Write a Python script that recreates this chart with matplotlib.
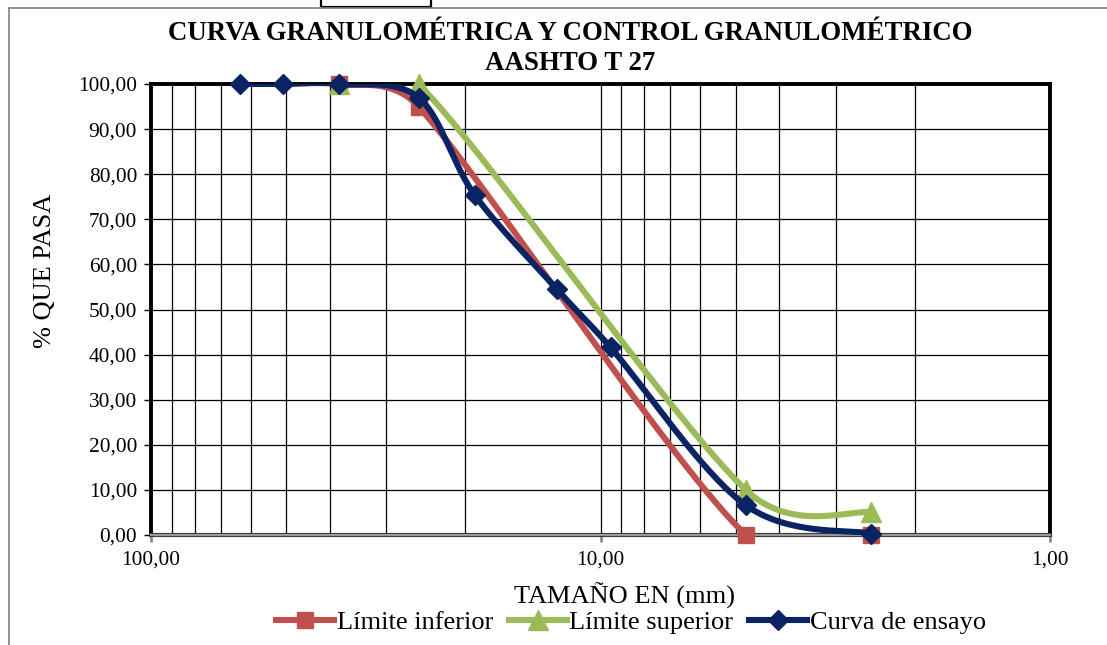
import numpy as np
import matplotlib
matplotlib.use("Agg")
import matplotlib.pyplot as plt
from matplotlib.lines import Line2D
from matplotlib.patches import Rectangle
from matplotlib.ticker import LogLocator, FixedLocator, FuncFormatter, NullFormatter

# Sieve openings (mm) and percent passing
tamiz_mm = [63.5, 50.8, 38.1, 25.4, 19.05, 12.5, 9.5, 4.75, 2.5]
curva_ensayo = [100.0, 100.0, 100.0, 97.0, 75.4, 54.5, 41.6, 6.6, 0.3]

limite_mm = [38.1, 25.4, 4.75, 2.5]
limite_inferior = [100.0, 95.0, 0.0, 0.0]
limite_superior = [100.0, 100.0, 10.0, 5.0]

x_ticks = [100, 10, 1]
y_ticks = list(range(0, 101, 10))

serie_nombres = ["Límite inferior", "Límite superior", "Curva de ensayo"]
colores = ["#C0504D", "#9BBB59", "#0A2463"]

plt.rcParams["font.family"] = ["Liberation Serif", "DejaVu Serif"]

W, H = 1107, 645
fig = plt.figure(figsize=(W / 100, H / 100), dpi=100)
fig.patch.set_facecolor("white")

# chart-area frame (continues past the right and bottom edges)
fig.add_artist(Line2D([9 / W, 1.0], [1 - 8 / H, 1 - 8 / H], color="#7f7f7f", lw=1.2,
                      transform=fig.transFigure))
fig.add_artist(Line2D([9 / W, 9 / W], [0.0, 1 - 8 / H], color="#7f7f7f", lw=1.2,
                      transform=fig.transFigure))
# cell box peeking above the chart
fig.add_artist(Rectangle((321 / W, 1 - 7 / H), 110 / W, 12 / H, fill=False,
                         edgecolor="black", lw=1.6, transform=fig.transFigure))

ax = fig.add_axes([151 / W, 110 / H, 899 / W, 451 / H])
ax.set_xscale("log")
ax.set_xlim(100, 1)
ax.set_ylim(0, 100)

ax.xaxis.set_major_locator(FixedLocator(x_ticks))
ax.xaxis.set_minor_locator(LogLocator(base=10, subs=np.arange(2, 10)))
ax.xaxis.set_minor_formatter(NullFormatter())
coma = FuncFormatter(lambda v, p: f"{v:.2f}".replace(".", ","))
ax.xaxis.set_major_formatter(coma)
ax.yaxis.set_major_locator(FixedLocator(y_ticks))
ax.yaxis.set_major_formatter(coma)

ax.grid(True, which="both", axis="x", color="black", lw=0.9)
ax.grid(True, which="major", axis="y", color="black", lw=0.9)
ax.set_axisbelow(True)

ax.tick_params(axis="x", which="major", direction="out", length=5, width=2, color="#8c8c8c",
               labelsize=15.4, pad=6)
ax.tick_params(axis="x", which="minor", length=0)
ax.tick_params(axis="y", which="major", direction="out", length=5, width=1, color="black",
               labelsize=15.4, pad=5)

for s in ["left", "top", "right"]:
    ax.spines[s].set_linewidth(2.8)
    ax.spines[s].set_color("black")
ax.spines["bottom"].set_linewidth(3.0)
ax.spines["bottom"].set_color("#3c3c3c")
ax.axhline(0, color="#9a9a9a", lw=1.4, zorder=3, clip_on=False)


def suavizado(xs, ys, n=60):
    """Bezier smoothing in screen space, control arms capped at half the segment."""
    pts = ax.transData.transform(np.column_stack([xs, ys]))
    out = []
    m = len(pts)
    for i in range(m - 1):
        p0 = pts[i - 1] if i > 0 else pts[i]
        p1, p2 = pts[i], pts[i + 1]
        p3 = pts[i + 2] if i + 2 < m else pts[i + 1]
        d12 = np.hypot(*(p2 - p1))
        a = (p2 - p0) / 6.0
        b = (p3 - p1) / 6.0
        na, nb = np.hypot(*a), np.hypot(*b)
        if na > d12 / 2 and na > 0:
            a *= (d12 / 2) / na
        if nb > d12 / 2 and nb > 0:
            b *= (d12 / 2) / nb
        c1, c2 = p1 + a, p2 - b
        t = np.linspace(0, 1, n)[:, None]
        seg = ((1 - t) ** 3) * p1 + 3 * ((1 - t) ** 2) * t * c1 + 3 * (1 - t) * t ** 2 * c2 + t ** 3 * p2
        out.append(seg if i == 0 else seg[1:])
    d = ax.transData.inverted().transform(np.vstack(out))
    return d[:, 0], d[:, 1]


series = [
    (limite_mm, limite_inferior, colores[0], "s", 12.2),
    (limite_mm, limite_superior, colores[1], "^", 14.4),
    (tamiz_mm, curva_ensayo, colores[2], "D", 10.0),
]
handles = []
for k, (xs, ys, col, mk, ms) in enumerate(series):
    sx, sy = suavizado(xs, ys)
    ax.plot(sx, sy, color=col, lw=4.4, solid_capstyle="round", zorder=4 + 2 * k, clip_on=True)
    ax.plot(xs, ys, ls="none", marker=mk, ms=ms, color=col, mec=col, zorder=5 + 2 * k, clip_on=False)
    handles.append(Line2D([], [], color=col, lw=4.4, marker=mk, ms=ms, mec=col))

fig.text(570 / W, 1 - 33 / H, "CURVA GRANULOMÉTRICA Y CONTROL GRANULOMÉTRICO",
         ha="center", va="center", fontsize=19.4, fontweight="bold")
fig.text(570 / W, 1 - 63 / H, "AASHTO T 27",
         ha="center", va="center", fontsize=19.4, fontweight="bold")
fig.text(45 / W, 1 - 271 / H, "% QUE PASA", rotation=90, ha="center", va="center", fontsize=19)
fig.text(624 / W, 1 - 596 / H, "TAMAÑO EN (mm)", ha="center", va="center", fontsize=19)

fig.legend(handles, serie_nombres, loc="center", bbox_to_anchor=(631 / W, 1 - 622 / H),
           ncol=3, frameon=False, fontsize=19, handlelength=2.2, handletextpad=0.1,
           columnspacing=0.6, borderpad=0)

fig.savefig("out.png", dpi=100, facecolor="white")
